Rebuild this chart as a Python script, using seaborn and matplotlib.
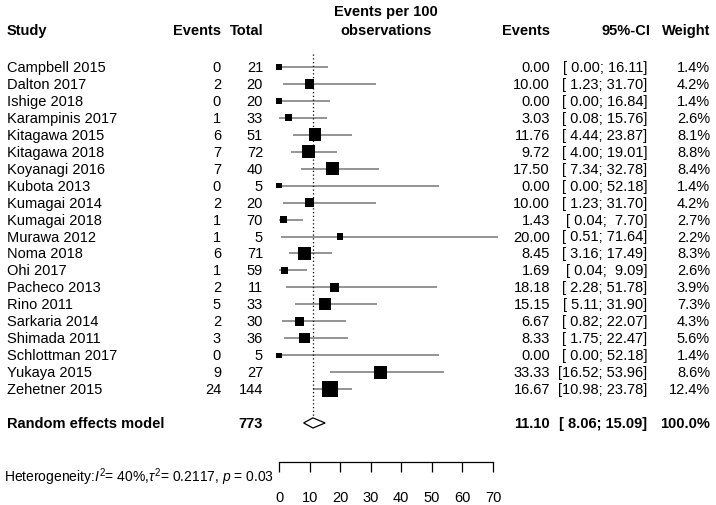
import seaborn as sns
import pandas as pd
import matplotlib.pyplot as plt
import matplotlib.transforms as mtransforms
import numpy as np

studies = ["Campbell 2015", "Dalton 2017", "Ishige 2018", "Karampinis 2017", "Kitagawa 2015",
           "Kitagawa 2018", "Koyanagi 2016", "Kubota 2013", "Kumagai 2014", "Kumagai 2018",
           "Murawa 2012", "Noma 2018", "Ohi 2017", "Pacheco 2013", "Rino 2011",
           "Sarkaria 2014", "Shimada 2011", "Schlottman 2017", "Yukaya 2015", "Zehetner 2015"]
events = [0, 2, 0, 1, 6, 7, 7, 0, 2, 1, 1, 6, 1, 2, 5, 2, 3, 0, 9, 24]
totals = [21, 20, 20, 33, 51, 72, 40, 5, 20, 70, 5, 71, 59, 11, 33, 30, 36, 5, 27, 144]
rate = [0.00, 10.00, 0.00, 3.03, 11.76, 9.72, 17.50, 0.00, 10.00, 1.43,
        20.00, 8.45, 1.69, 18.18, 15.15, 6.67, 8.33, 0.00, 33.33, 16.67]
ci_lo = [0.00, 1.23, 0.00, 0.08, 4.44, 4.00, 7.34, 0.00, 1.23, 0.04,
         0.51, 3.16, 0.04, 2.28, 5.11, 0.82, 1.75, 0.00, 16.52, 10.98]
ci_hi = [16.11, 31.70, 16.84, 15.76, 23.87, 19.01, 32.78, 52.18, 31.70, 7.70,
         71.64, 17.49, 9.09, 51.78, 31.90, 22.07, 22.47, 52.18, 53.96, 23.78]
weight = [1.4, 4.2, 1.4, 2.6, 8.1, 8.8, 8.4, 1.4, 4.2, 2.7,
          2.2, 8.3, 2.6, 3.9, 7.3, 4.3, 5.6, 1.4, 8.6, 12.4]

pooled = 11.10
pooled_lo = 8.06
pooled_hi = 15.09
pooled_total = 773
ticks = [0, 10, 20, 30, 40, 50, 60, 70]

df = pd.DataFrame({"study": studies, "events": events, "total": totals, "rate": rate,
                   "lo": ci_lo, "hi": ci_hi, "weight": weight})
df["row"] = np.arange(len(df))
rand_row = len(df) + 1

sns.set_theme(style="white")
plt.rcParams['font.family'] = ['Liberation Sans', 'DejaVu Sans']
plt.rcParams['mathtext.fontset'] = 'custom'
plt.rcParams['mathtext.rm'] = 'Liberation Sans'
plt.rcParams['mathtext.it'] = 'Liberation Sans:italic'
fs = 10.5

W, H = 716, 506
fig = plt.figure(figsize=(W / 100, H / 100), dpi=100)
ax = fig.add_axes([0, 0, 1, 1])
ax.patch.set_alpha(0)

# pixel layout of the plot region
x0_px, x70_px = 279, 493
ppu = (x70_px - x0_px) / 70.0
row0_px, row_step = 68, 16.95
ax.set_xlim(-x0_px / ppu, 70 + (W - x70_px) / ppu)
ax.set_ylim(len(df) - 1 + (H - (row0_px + (len(df) - 1) * row_step)) / row_step, -row0_px / row_step)

# CI lines and squares
ax.hlines(df["row"], df["lo"], df["hi"], color="#777777", lw=1.1)
sns.scatterplot(data=df, x="rate", y="row", size="weight", sizes=(0, 11.3 ** 2),
                size_norm=(0, 12.4), marker="s", color="black", linewidth=0,
                legend=False, ax=ax, clip_on=False, zorder=3)

# pooled line and diamond
ax.vlines(pooled, -0.75, rand_row - 0.3, color="black", lw=0.9, linestyles=(0, (1, 2)))
dx = [pooled_lo, pooled, pooled_hi, pooled, pooled_lo]
dy = [rand_row, rand_row - 0.3, rand_row, rand_row + 0.3, rand_row]
ax.fill(dx, dy, facecolor="white", edgecolor="black", lw=0.9, zorder=3)

# x axis
axis_row = (463 - row0_px) / row_step
for s in ["top", "left", "right"]:
    ax.spines[s].set_visible(False)
ax.spines["bottom"].set_position(("data", axis_row))
ax.spines["bottom"].set_bounds(0, 70)
ax.spines["bottom"].set_color("black")
ax.spines["bottom"].set_linewidth(0.9)
ax.set_xticks(ticks)
ax.set_yticks([])
ax.tick_params(axis="x", bottom=True, direction="out", length=7.5, width=0.9,
               color="black", pad=13, labelsize=fs, labelcolor="black")
ax.set_xlabel("")
ax.set_ylabel("")

# text columns (x in pixels, y in rows)
tr = mtransforms.blended_transform_factory(fig.transFigure, ax.transData)

def put(xpx, row, s, ha="left", bold=False, size=fs):
    ax.text(xpx / W, row, s, transform=tr, ha=ha, va="center", fontsize=size,
            fontweight="bold" if bold else "normal", color="black")

hdr = (31 - row0_px) / row_step
hdr1 = (12 - row0_px) / row_step
put(7, hdr, "Study", bold=True)
put(221, hdr, "Events", ha="right", bold=True)
put(263, hdr, "Total", ha="right", bold=True)
put(386, hdr1, "Events per 100", ha="center", bold=True)
put(386, hdr, "observations", ha="center", bold=True)
put(550, hdr, "Events", ha="right", bold=True)
put(650, hdr, "95%-CI", ha="right", bold=True)
put(710, hdr, "Weight", ha="right", bold=True)

for _, r in df.iterrows():
    put(7, r["row"], r["study"])
    put(221, r["row"], str(r["events"]), ha="right")
    put(263, r["row"], str(r["total"]), ha="right")
    put(550, r["row"], "%.2f" % r["rate"], ha="right")
    put(647, r["row"], "[%5.2f; %5.2f]" % (r["lo"], r["hi"]), ha="right")
    put(710, r["row"], "%.1f%%" % r["weight"], ha="right")

put(7, rand_row, "Random effects model", bold=True)
put(263, rand_row, str(pooled_total), ha="right", bold=True)
put(550, rand_row, "%.2f" % pooled, ha="right", bold=True)
put(647, rand_row, "[%5.2f; %5.2f]" % (pooled_lo, pooled_hi), ha="right", bold=True)
put(710, rand_row, "100.0%", ha="right", bold=True)

het_row = (477 - row0_px) / row_step
put(4, het_row, r"Heterogeneity:$I^2$= 40%,$\tau^2$= 0.2117, $p$ = 0.03", size=10)

fig.savefig("out.png", dpi=100)
